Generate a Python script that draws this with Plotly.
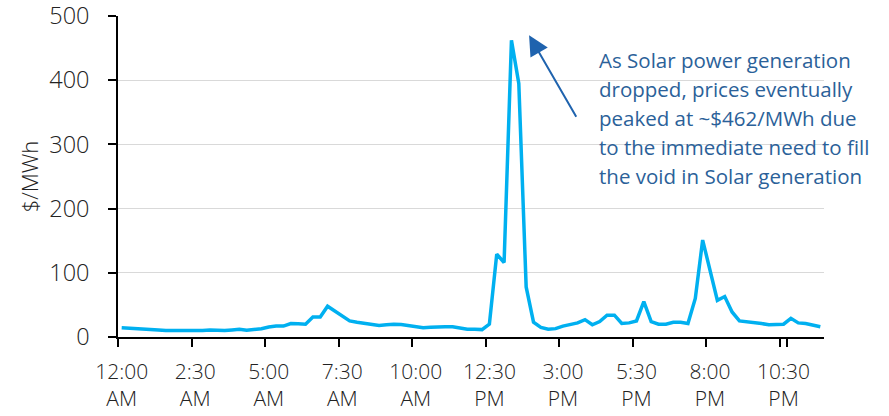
import pandas as pd
import plotly.graph_objects as go

# 15-minute intervals over one day
times = [t.strftime("%I:%M %p").lstrip("0") for t in pd.date_range("2000-01-01 00:00", periods=96, freq="15min")]

# Price ($/MWh) for each interval
prices = [
    14.5, 14, 13, 12, 12, 11, 10, 10, 10, 9.5,
    9, 10, 11, 10.5, 10, 11, 12, 10.5, 11.5, 13,
    15.5, 17, 17, 21, 20.5, 20, 31, 31, 48, 40,
    32, 25, 23, 21, 20, 18, 19, 20, 19.5, 18,
    16, 14.5, 15, 16, 16, 16, 14, 12, 12, 11.5,
    20, 129, 116, 462, 395, 78, 23, 15, 12, 13,
    17, 20, 22, 27, 19, 24, 34, 34, 21, 22,
    25, 55, 24, 20, 20, 23, 23, 21, 60, 151,
    104, 57, 63, 39, 25, 24, 23, 21, 19, 20,
    20, 29, 22, 21, 18, 16,
]

tick_every = 10
tick_labels = [
    "12:00<br>AM", "2:30<br>AM", "5:00<br>AM", "7:30<br>AM", "10:00<br>AM",
    "12:30<br>PM", "3:00<br>PM", "5:30<br>PM", "8:00<br>PM", "10:30<br>PM",
]
y_ticks = [0, 100, 200, 300, 400, 500]

note_lines = [
    "As Solar power generation",
    "dropped, prices eventually",
    "peaked at ~$462/MWh due",
    "to the immediate need to fill",
    "the void in Solar generation",
]

peak_idx = max(range(len(prices)), key=lambda i: prices[i])

fig = go.Figure()
fig.add_trace(go.Scatter(
    x=times, y=prices, mode="lines",
    line=dict(color="#00B0F0", width=3.5),
    hoverinfo="x+y",
))

x_font = dict(family="Open Sans", size=21, color="#222222", weight=300)
y_font = dict(family="Open Sans", size=23.5, color="#222222", weight=300)

fig.update_layout(
    width=889, height=416,
    margin=dict(l=118, r=65, t=16, b=79),
    plot_bgcolor="white", paper_bgcolor="white",
    showlegend=False,
    font=dict(family="Open Sans", color="#222222"),
    xaxis=dict(
        type="category",
        range=[-0.5, len(times) - 0.5],
        tickmode="array",
        tickvals=times[::tick_every],
        ticktext=tick_labels,
        tickson="boundaries",
        ticks="outside", ticklen=8, tickwidth=1.5, tickcolor="black",
        showline=True, linecolor="black", linewidth=1.5,
        showgrid=False, zeroline=False,
        tickfont=x_font,
        tickangle=0,
        ticklabelstandoff=15,
        automargin=False,
    ),
    yaxis=dict(
        range=[0, 500],
        tickmode="array", tickvals=y_ticks,
        showgrid=True, gridcolor="#d9d9d9", gridwidth=1.3,
        showline=True, linecolor="black", linewidth=1.5,
        ticks="outside", ticklen=8, tickwidth=1.5, tickcolor="black",
        zeroline=False,
        tickfont=y_font,
        ticklabelstandoff=14,
        ticklabeloverflow="allow",
        title=dict(text="$/MWh", font=dict(family="Open Sans", size=22, color="#222222", weight=300), standoff=5),
        automargin=False,
    ),
)

# Arrow pointing at the price peak
fig.add_annotation(
    x=peak_idx + 2.4, y=prices[peak_idx] + 8, xref="x", yref="y",
    text="", showarrow=True,
    ax=48, ay=83,
    arrowhead=2, arrowsize=2, arrowwidth=2, arrowcolor="#1F63AE",
    standoff=0,
)

# Explanatory note, one annotation per line
plot_top, plot_h = 16, 321
for k, line in enumerate(note_lines):
    py = 60 + 29 * k
    fig.add_annotation(
        x=(597 - 118) / 706, y=(plot_top + plot_h - py) / plot_h,
        xref="paper", yref="paper",
        xanchor="left", yanchor="middle",
        text=line, showarrow=False,
        font=dict(family="Open Sans", size=20.5, color="#2B6199"),
    )

fig.write_html("out.html")
